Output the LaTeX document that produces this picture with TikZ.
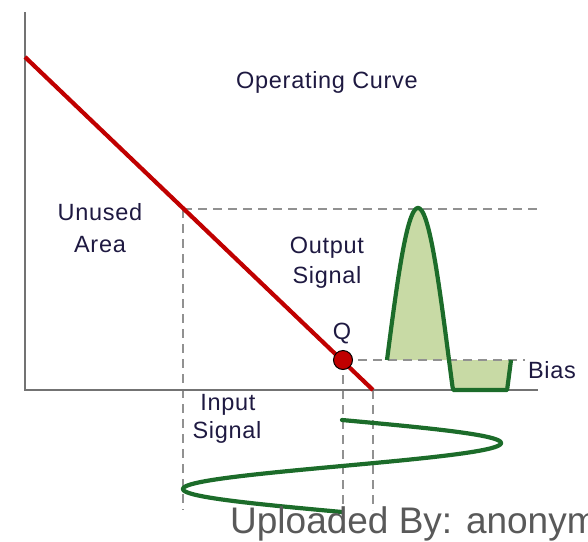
\documentclass[tikz,border=0pt]{standalone}
\usepackage{fontspec}
\setmainfont{Liberation Sans}
\definecolor{axisgray}{RGB}{115,115,115}
\definecolor{dashgray}{RGB}{145,145,145}
\definecolor{curvered}{RGB}{192,0,0}
\definecolor{siggreen}{RGB}{28,108,42}
\definecolor{sigfill}{RGB}{200,218,165}
\definecolor{labelcol}{RGB}{30,25,65}
\definecolor{upgray}{RGB}{89,89,89}
\tikzset{
  axisline/.style={draw=axisgray,line width=2.6pt},
  guide/.style={draw=dashgray,line width=1.4pt,dash pattern=on 9pt off 6pt},
  curve/.style={draw=curvered,line width=4.2pt},
  signal/.style={draw=siggreen,line width=4.2pt,line join=round},
  lbl/.style={anchor=base,inner sep=0pt,text=labelcol,font=\fontsize{23.5}{28}\selectfont\addfontfeature{LetterSpace=3}},
}
\begin{document}
\begin{tikzpicture}[x=1pt,y=-1pt]
\useasboundingbox (0,0) rectangle (588,541);
% key coordinates
\coordinate (ytop) at (25,12);
\coordinate (orig) at (25,390);
\coordinate (xend) at (538,390);
\coordinate (rstart) at (25,57);
\coordinate (rend) at (373,390);
\coordinate (hitop) at (183,209);
\coordinate (hitopR) at (540,209);
\coordinate (hibot) at (183,510);
\coordinate (qbot) at (343,510);
\coordinate (rbot) at (373,510);
\coordinate (biasR) at (525,360);
% output signal fill
\fill[sigfill] (387,360) -- plot[domain=387:511,samples=160] (\x,{min(390,360-152*sin(2.9032*(\x-387)))}) -- cycle;
% dashed guides
\draw[guide] (hitop) -- (hitopR);
\draw[guide] (hitop) -- (hibot);
\draw[guide] (343,360) -- (qbot);
\draw[guide] (rend) -- (rbot);
\draw[guide] (343,360) -- (biasR);
% axes
\draw[axisline] (ytop) -- (orig) -- (xend);
% operating curve
\draw[curve] (rstart) -- (rend);
% Q point
\node[circle,fill=curvered,draw=black,line width=1pt,minimum size=19pt,inner sep=0pt] (q) at (343,360) {};
% output signal curve
\draw[signal] plot[domain=387:511,samples=160] (\x,{min(390,360-152*sin(2.9032*(\x-387)))});
% input signal
\draw[signal,line cap=round] plot[domain=420:512,samples=200,smooth] ({342+159*sin(3.9130*(\x-420))},\x);
% labels
\node[lbl] (opc) at (327,88) {Operating Curve};
\node[lbl] (un1) at (100,220) {Unused};
\node[lbl] (un2) at (100,252) {Area};
\node[lbl] (out1) at (327,253) {Output};
\node[lbl] (out2) at (327,283) {Signal};
\node[lbl] (ql) at (342,339) {Q};
\node[lbl] (bias) at (552,378) {Bias};
\node[lbl] (in1) at (228,410) {Input};
\node[lbl] (in2) at (227,438) {Signal};
\begin{scope}
\clip (0,0) rectangle (588,541);
\node[anchor=base west,inner sep=0pt,text=upgray,font=\fontsize{37}{40}\selectfont] (up) at (230,533) {Uploaded By: anonymous};
\end{scope}
\end{tikzpicture}
\end{document}
